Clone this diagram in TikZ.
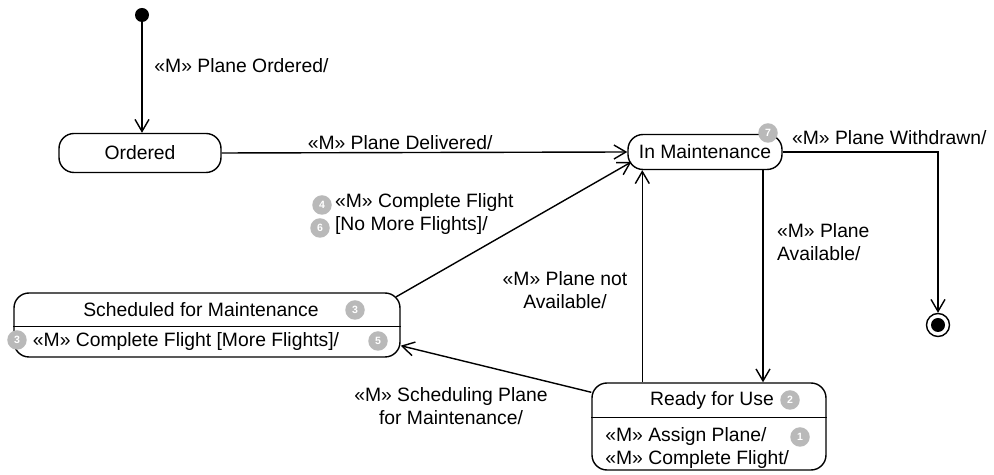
\documentclass[tikz,border=0pt]{standalone}
\usepackage{fontspec}
\setmainfont{Liberation Sans}
\usepackage{tikz}
\usetikzlibrary{positioning, arrows.meta, calc}
\definecolor{numGray}{RGB}{185,185,185}

\begin{document}
\begin{tikzpicture}[
    font=\fontsize{11}{13}\selectfont,
    state/.style={rectangle, draw=black, line width=0.8pt, rounded corners=0.3cm, inner sep=2pt},
    arrow/.style={-{Straight Barb[length=2.4mm, width=2.8mm]}, line width=0.8pt},
    label/.style={inner sep=1pt},
    num/.style={circle, fill=numGray, minimum size=0.39cm, inner sep=0pt, text=white, font=\fontsize{6}{6}\selectfont\bfseries}
]
\useasboundingbox (0,0) rectangle (19.88,9.5);

% Nodes
\node[circle, fill=black, minimum size=0.28cm, inner sep=0pt] (init) at (2.84,9.20) {};
\node[state, minimum width=3.24cm, minimum height=0.78cm] (ordered) at (2.80,6.44) {Ordered};
\node[state, minimum width=3.08cm, minimum height=0.70cm] (inm) at (14.10,6.46) {In Maintenance};
\node[state, minimum width=7.72cm, minimum height=1.28cm] (sched) at (4.14,3.00) {};
\node[state, minimum width=4.68cm, minimum height=1.74cm] (ready) at (14.18,0.97) {};

% Compartments
\draw[line width=0.8pt] ([yshift=-0.68cm]sched.north west) -- ([yshift=-0.68cm]sched.north east);
\node (schedhead) at (4.02,3.30) {Scheduled for Maintenance};
\node (schedbody) at (3.72,2.66) {«M» Complete Flight [More Flights]/};
\draw[line width=0.8pt] ([yshift=-0.70cm]ready.north west) -- ([yshift=-0.70cm]ready.north east);
\node (readyhead) at (14.24,1.48) {Ready for Use};
\node[anchor=west, align=left, inner sep=0pt] (readybody) at (12.10,0.54) {«M» Assign Plane/\\«M» Complete Flight/};

% Final state
\node[circle, draw=black, line width=0.8pt, minimum size=0.46cm, inner sep=0pt] (final) at (18.76,3.00) {};
\node[circle, fill=black, minimum size=0.28cm, inner sep=0pt] at (final) {};

% Numbers
\node[num] (n7) at (15.36,6.84) {7};
\node[num] (n2) at (15.80,1.50) {2};
\node[num] (n1) at (16.00,0.76) {1};
\node[num] (n3) at (7.10,3.30) {3};
\node[num] (n3b) at (0.34,2.70) {3};
\node[num] (n5) at (7.56,2.68) {5};
\node[num] (n4) at (6.44,5.40) {4};
\node[num] (n6) at (6.40,4.94) {6};

% Arrows
\draw[arrow] (init) -- node[pos=0.39, right=0.2cm, label] {«M» Plane Ordered/} (init |- ordered.north);
\draw[arrow] (ordered.east) -- node[pos=0.44, above, label] {«M» Plane Delivered/} (inm.west);
\draw[arrow] ([shift={(-0.09,-0.09)}]sched.north east) -- ([shift={(0.08,-0.2)}]inm.west);
\draw[arrow] ([yshift=-0.2cm]ready.north west) -- ([yshift=0.24cm]sched.south east);
\draw[arrow] ([xshift=1.02cm]ready.north west) -- ([xshift=1.02cm]ready.north west |- inm.south);
\draw[arrow] ([xshift=1.16cm]inm.south) -- ([xshift=1.16cm]inm.south |- ready.north);
\draw[arrow] (inm.east) -| (final.north);

% Labels
\node[label, anchor=west, align=left] (cflabel) at (6.66,5.22) {«M» Complete Flight\\{[No More Flights]/}};
\node[label, align=center] (notavail) at (11.30,3.70) {«M» Plane not\\Available/};
\node[label, anchor=west, align=left] (avail) at (15.50,4.66) {«M» Plane\\Available/};
\node[label, align=center] (schedlabel) at (9.02,1.38) {«M» Scheduling Plane\\for Maintenance/};
\node[label, anchor=west] (withdrawn) at (15.80,6.74) {«M» Plane Withdrawn/};
\end{tikzpicture}
\end{document}
